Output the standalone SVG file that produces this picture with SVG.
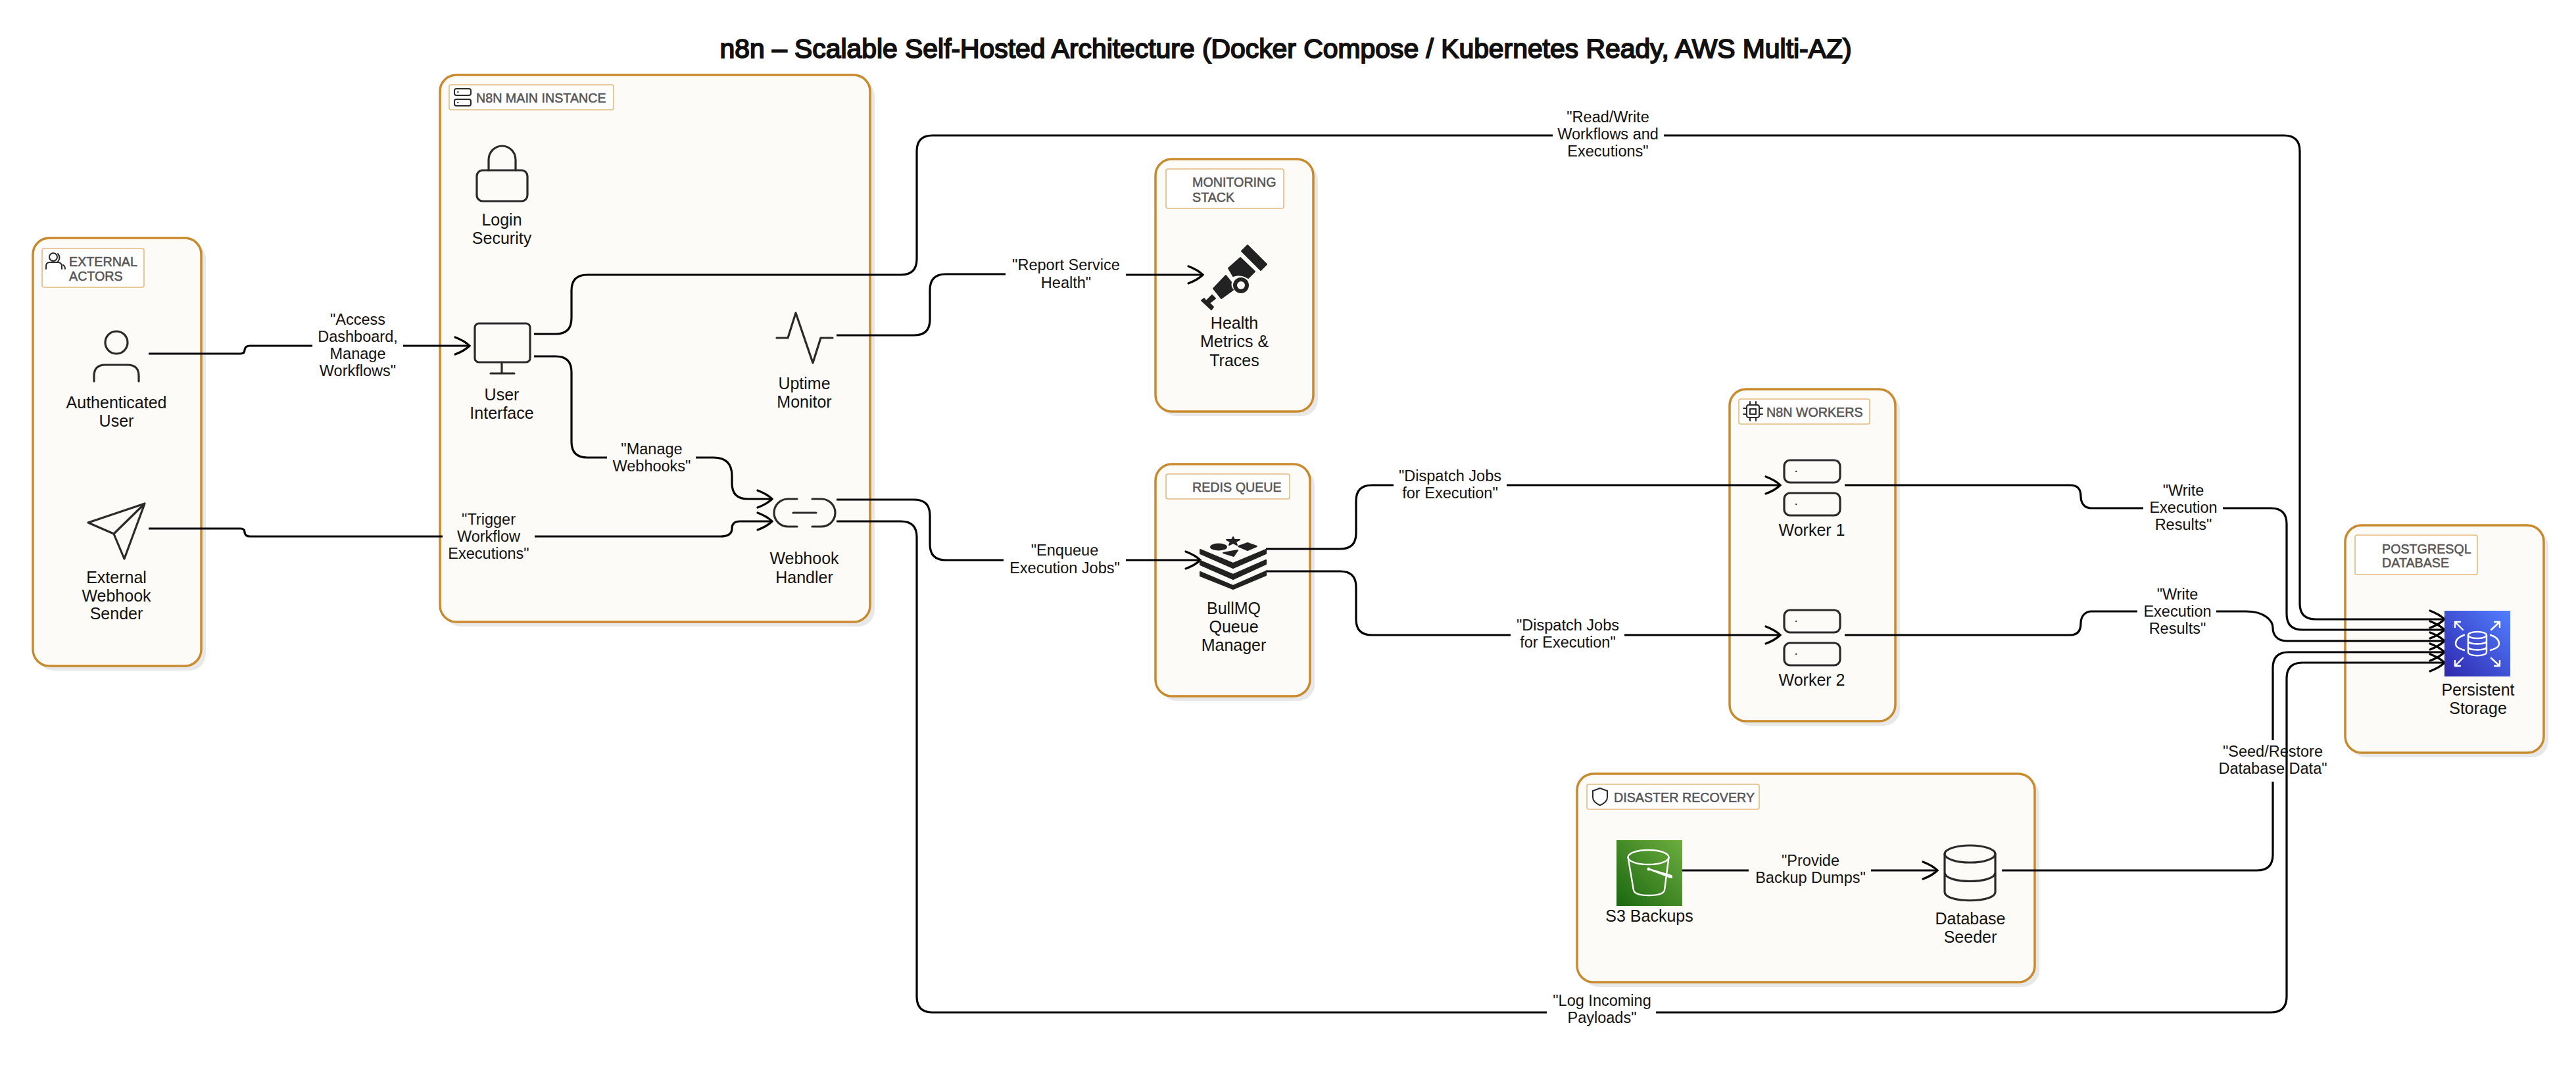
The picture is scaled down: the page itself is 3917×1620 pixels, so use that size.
<svg xmlns="http://www.w3.org/2000/svg" width="3917" height="1620" viewBox="0 0 3917 1620">
<style>
text{font-family:"Liberation Sans",Arial,sans-serif}
.title{font-size:41px;fill:#111;stroke:#111;stroke-width:1.9;text-anchor:middle}
.n{font-size:25px;fill:#111;text-anchor:middle}
.e{font-size:23.5px;fill:#111;text-anchor:middle}
.g{font-size:19.7px;fill:#555;stroke:#555;stroke-width:.5}
.box{fill:#fcfbf7;stroke:#c98a2e;stroke-width:3.5}
.sh{fill:#e8e8e8}
.lb{fill:#fff;stroke:#e3bb80;stroke-width:1.6}
.i{fill:none;stroke:#2a2a2a;stroke-width:3.2;stroke-linecap:round;stroke-linejoin:round}
.t{fill:none;stroke:#2a2a2a;stroke-width:2;stroke-linecap:round;stroke-linejoin:round}
.f{fill:#222;stroke:#222;stroke-width:2;stroke-linejoin:round}
.w{fill:none;stroke:#fff;stroke-width:2.4;stroke-linecap:round;stroke-linejoin:round}
.c{fill:none;stroke:#000;stroke-width:3.2}
.c .a{marker-end:url(#arrow)}
</style>
<defs>
<marker id="arrow" markerUnits="userSpaceOnUse" markerWidth="28" markerHeight="32" refX="23" refY="14" orient="auto" overflow="visible">
<path d="M1 1C9 4 17 8 23 14C17 20 9 24 1 27" fill="none" stroke="#000" stroke-width="3.2" stroke-linecap="round"/>
</marker>
<linearGradient id="blue" x1="0" y1="1" x2="1" y2="0"><stop offset="0" stop-color="#2e27ad"/><stop offset="1" stop-color="#527fff"/></linearGradient>
<linearGradient id="green" x1="0" y1="1" x2="1" y2="0"><stop offset="0" stop-color="#1b660f"/><stop offset="1" stop-color="#6cae3e"/></linearGradient>
</defs>
<rect width="3917" height="1620" fill="#fff"/>
<text class="title" x="1955" y="88" textLength="1721" lengthAdjust="spacingAndGlyphs">n8n – Scalable Self-Hosted Architecture (Docker Compose / Kubernetes Ready, AWS Multi-AZ)</text>

<g id="group-external-actors">
<rect class="sh" x="57" y="369" width="256" height="651" rx="25"/>
<rect class="box" x="50" y="362" width="256" height="651" rx="25"/>
<rect class="lb" x="64" y="378" width="155" height="59" rx="3"/>
<path class="t" d="M70 409V405Q70 399 76 399H87Q94 399 94 405V409M88 386Q93 392 88 398M96 403Q99 405 99 409"/>
<circle class="t" cx="81" cy="391" r="6"/>
<text class="g" x="105" y="405">EXTERNAL</text><text class="g" x="105" y="427">ACTORS</text>
</g>
<g id="group-main">
<rect class="sh" x="676" y="121" width="654" height="832" rx="25"/>
<rect class="box" x="669" y="114" width="654" height="832" rx="25"/>
<rect class="lb" x="683" y="129" width="250" height="38" rx="3"/>
<rect class="t" x="691" y="135" width="25" height="10" rx="3"/><rect class="t" x="691" y="151" width="25" height="10" rx="3"/>
<path class="t" d="M696 140h.5M696 156h.5"/>
<text class="g" x="724" y="156">N8N MAIN INSTANCE</text>
</g>
<g id="group-monitoring">
<rect class="sh" x="1764" y="249" width="240" height="384" rx="25"/>
<rect class="box" x="1757" y="242" width="240" height="384" rx="25"/>
<rect class="lb" x="1773" y="257" width="179" height="60" rx="3"/>
<text class="g" x="1813" y="284">MONITORING</text><text class="g" x="1813" y="307">STACK</text>
</g>
<g id="group-redis">
<rect class="sh" x="1764" y="713" width="235" height="353" rx="25"/>
<rect class="box" x="1757" y="706" width="235" height="353" rx="25"/>
<rect class="lb" x="1773" y="721" width="188" height="38" rx="3"/>
<text class="g" x="1813" y="748">REDIS QUEUE</text>
</g>
<g id="group-workers">
<rect class="sh" x="2637" y="599" width="252" height="505" rx="25"/>
<rect class="box" x="2630" y="592" width="252" height="505" rx="25"/>
<rect class="lb" x="2644" y="607" width="199" height="38" rx="3"/>
<rect class="t" x="2656" y="616" width="19" height="19" rx="3"/><rect class="t" x="2661" y="622" width="9" height="8"/>
<path class="t" d="M2661 611v5M2670 611v5M2661 635v5M2670 635v5M2651 621h5M2651 630h5M2675 621h5M2675 630h5"/>
<text class="g" x="2686" y="634">N8N WORKERS</text>
</g>
<g id="group-recovery">
<rect class="sh" x="2405" y="1184" width="696" height="317" rx="25"/>
<rect class="box" x="2398" y="1177" width="696" height="317" rx="25"/>
<rect class="lb" x="2413" y="1193" width="262" height="38" rx="3"/>
<path class="t" d="M2433 1199L2444 1203V1213Q2444 1220 2433 1225Q2422 1220 2422 1213V1203Z"/>
<text class="g" x="2454" y="1220">DISASTER RECOVERY</text>
</g>
<g id="group-postgres">
<rect class="sh" x="3573" y="806" width="302" height="346" rx="25"/>
<rect class="box" x="3566" y="799" width="302" height="346" rx="25"/>
<rect class="lb" x="3581" y="814" width="186" height="60" rx="3"/>
<text class="g" x="3622" y="842">POSTGRESQL</text><text class="g" x="3622" y="863">DATABASE</text>
</g>

<g id="connectors" class="c">
<path d="M226 538H366Q372 538 372 532Q373 526 380 526H475"/><path class="a" d="M613 526H714"/>
<path d="M812 508H845Q869 508 869 484V442Q869 418 893 418H1370Q1394 418 1394 394V230Q1394 206 1418 206H2361"/><path class="a" d="M2530 206H3473Q3497 206 3497 230V918Q3497 942 3521 942H3717"/>
<path d="M812 542H845Q869 542 869 566V672Q869 696 893 696H923"/><path class="a" d="M1058 696H1085Q1113 696 1113 724V735Q1113 759 1137 759H1174"/>
<path d="M226 804H366Q372 804 372 810Q373 816 380 816H673"/><path class="a" d="M813 816H1095Q1113 816 1113 804Q1113 793 1125 793H1174"/>
<path d="M1272 510H1390Q1414 510 1414 486V441Q1414 417 1438 417H1529"/><path class="a" d="M1712 418H1829"/>
<path d="M1272 760H1390Q1414 760 1414 784V828Q1414 852 1438 852H1526"/><path class="a" d="M1712 852H1825"/>
<path d="M1272 793H1370Q1394 793 1394 817V1516Q1394 1540 1418 1540H2352"/><path class="a" d="M2518 1540H3453Q3477 1540 3477 1516V1032Q3477 1008 3501 1008H3717"/>
<path d="M1925 835H2038Q2062 835 2062 811V762Q2062 738 2086 738H2119"/><path class="a" d="M2291 738H2707"/>
<path d="M1925 869H2038Q2062 869 2062 893V942Q2062 966 2086 966H2297"/><path class="a" d="M2470 966H2707"/>
<path d="M2805 738H3148C3160 738 3164 745 3164 755C3164 766 3170 773 3180 773H3259"/><path class="a" d="M3380 773H3453Q3477 773 3477 797V934Q3477 958 3501 958H3717"/>
<path d="M2805 966H3148C3160 966 3164 958 3164 948C3164 938 3170 930 3180 930H3250"/><path class="a" d="M3370 930H3415C3445 930 3456 945 3456 955C3456 965 3462 975 3477 975H3717"/>
<path d="M2558 1324H2659"/><path class="a" d="M2845 1324H2946"/>
<path d="M3044 1324H3432Q3456 1324 3456 1300V1189"/><path class="a" d="M3456 1126V1016Q3456 992 3480 992H3717"/>
</g>
<g id="edge-labels">
<text class="e" x="544" y="494">"Access</text><text class="e" x="544" y="520">Dashboard,</text><text class="e" x="544" y="546">Manage</text><text class="e" x="544" y="572">Workflows"</text>
<text class="e" x="2445" y="186">"Read/Write</text><text class="e" x="2445" y="212">Workflows and</text><text class="e" x="2445" y="238">Executions"</text>
<text class="e" x="991" y="691">"Manage</text><text class="e" x="991" y="717">Webhooks"</text>
<text class="e" x="743" y="798">"Trigger</text><text class="e" x="743" y="824">Workflow</text><text class="e" x="743" y="850">Executions"</text>
<text class="e" x="1621" y="411">"Report Service</text><text class="e" x="1621" y="438">Health"</text>
<text class="e" x="1619" y="845">"Enqueue</text><text class="e" x="1619" y="872">Execution Jobs"</text>
<text class="e" x="2205" y="732">"Dispatch Jobs</text><text class="e" x="2205" y="758">for Execution"</text>
<text class="e" x="2384" y="959">"Dispatch Jobs</text><text class="e" x="2384" y="985">for Execution"</text>
<text class="e" x="3320" y="754">"Write</text><text class="e" x="3320" y="780">Execution</text><text class="e" x="3320" y="806">Results"</text>
<text class="e" x="3311" y="912">"Write</text><text class="e" x="3311" y="938">Execution</text><text class="e" x="3311" y="964">Results"</text>
<text class="e" x="2753" y="1317">"Provide</text><text class="e" x="2753" y="1343">Backup Dumps"</text>
<text class="e" x="3456" y="1151">"Seed/Restore</text><text class="e" x="3456" y="1177">Database Data"</text>
<text class="e" x="2436" y="1530">"Log Incoming</text><text class="e" x="2436" y="1556">Payloads"</text>
</g>

<g id="node-user">
<ellipse class="i" cx="177" cy="521" rx="17" ry="17"/>
<path class="i" d="M143 580V572Q143 555 160 555H194Q211 555 211 572V580"/>
<text class="n" x="177" y="621">Authenticated</text><text class="n" x="177" y="649">User</text>
</g>
<g id="node-webhook-sender">
<path class="i" d="M134 795L220 766L189 850L173 812ZM173 812L220 766"/>
<text class="n" x="177" y="887">External</text><text class="n" x="177" y="915">Webhook</text><text class="n" x="177" y="942">Sender</text>
</g>
<g id="node-login">
<rect class="i" x="725" y="259" width="77" height="47" rx="9"/>
<path class="i" d="M743 259V243A20.500 21 0 0 1 784 243V259"/>
<text class="n" x="763" y="343">Login</text><text class="n" x="763" y="371">Security</text>
</g>
<g id="node-ui">
<rect class="i" x="722" y="492" width="84" height="59" rx="6"/>
<path class="i" d="M763 551V568M746 568H782"/>
<text class="n" x="763" y="609">User</text><text class="n" x="763" y="637">Interface</text>
</g>
<g id="node-uptime">
<path class="i" d="M1181 514H1198L1210 476L1236 552L1248 514H1266"/>
<text class="n" x="1223" y="592">Uptime</text><text class="n" x="1223" y="620">Monitor</text>
</g>
<g id="node-webhook">
<path class="i" d="M1212 759H1198A21 21 0 0 0 1198 801H1212M1235 759H1249A21 21 0 0 1 1249 801H1235M1206 780H1241"/>
<text class="n" x="1223" y="858">Webhook</text><text class="n" x="1223" y="887">Handler</text>
</g>
<g id="node-health">
<path class="f" d="M1897 373L1926 402L1917 411L1888 382Z"/>
<path class="f" d="M1868 408L1886 392L1908 413L1898 423Q1887 416 1875 420Z"/>
<path class="f" d="M1845 439L1864 419L1872 429Q1870 436 1875 441L1857 454Z"/>
<circle cx="1887" cy="434" r="9" fill="none" stroke="#222" stroke-width="6"/>
<path class="f" d="M1827 457L1842 471L1845 467L1839 461L1848 454L1843 449L1834 458L1831 454Z"/>
<text class="n" x="1877" y="500">Health</text><text class="n" x="1877" y="528">Metrics &amp;</text><text class="n" x="1877" y="557">Traces</text>
</g>
<g id="node-bullmq">
<path class="f" d="M1825 836L1875 857L1925 836V842L1875 864L1825 842Z"/>
<path class="f" d="M1825 853L1875 874L1925 852V858L1875 881L1825 859Z"/>
<path class="f" d="M1825 870L1875 891L1925 869V875L1875 896L1825 876Z"/>
<ellipse class="f" cx="1853" cy="832" rx="12" ry="4.500"/>
<path class="f" d="M1875 817L1877 821L1885 821L1879 824L1881 829L1875 826L1869 829L1871 824L1865 821L1873 821Z"/>
<path class="f" d="M1883 831L1897 826L1911 831L1897 837Z"/>
<path class="f" d="M1860 841L1882 837L1876 846Z"/>
<text class="n" x="1876" y="934">BullMQ</text><text class="n" x="1876" y="962">Queue</text><text class="n" x="1876" y="990">Manager</text>
</g>
<g id="node-worker-1">
<rect class="i" x="2713" y="700" width="85" height="34" rx="9"/><rect class="i" x="2713" y="750" width="85" height="34" rx="9"/>
<path class="t" d="M2731 717h.5M2731 767h.5"/>
<text class="n" x="2755" y="815">Worker 1</text>
</g>
<g id="node-worker-2">
<rect class="i" x="2713" y="928" width="85" height="34" rx="9"/><rect class="i" x="2713" y="978" width="85" height="34" rx="9"/>
<path class="t" d="M2731 945h.5M2731 995h.5"/>
<text class="n" x="2755" y="1043">Worker 2</text>
</g>
<g id="node-s3">
<rect x="2458" y="1278" width="100" height="100" fill="url(#green)"/>
<ellipse class="w" cx="2506.500" cy="1304" rx="31" ry="11"/>
<path class="w" d="M2475.500 1304L2484 1354Q2486 1362 2507 1362Q2529 1362 2531 1354L2537.500 1304M2507 1322L2541 1332Q2544 1336 2538 1334Z"/>
<circle cx="2507" cy="1322" r="2.500" fill="#fff"/>
<text class="n" x="2508" y="1402">S3 Backups</text>
</g>
<g id="node-seeder">
<ellipse class="i" cx="2995.500" cy="1299" rx="38.500" ry="13"/>
<path class="i" d="M2957 1299V1357C2957 1374 3034 1374 3034 1357V1299M2957 1327C2957 1345 3034 1345 3034 1327"/>
<text class="n" x="2996" y="1406">Database</text><text class="n" x="2996" y="1434">Seeder</text>
</g>
<g id="node-postgres">
<rect x="3717" y="929" width="100" height="100" fill="url(#blue)"/>
<path class="w" d="M3745 958L3733 946M3733 954V946H3741M3788 958L3801 946M3793 946H3801V954M3745 1001L3733 1013M3733 1005V1013H3741M3788 1001L3801 1013M3801 1005V1013H3793"/>
<path class="w" d="M3747 966C3738 969 3734 974 3734 979C3734 984 3738 986 3747 989M3787 966C3796 969 3800 974 3800 979C3800 984 3796 986 3787 989"/>
<ellipse class="w" cx="3767" cy="966" rx="14" ry="5"/>
<path class="w" d="M3753 966V992C3753 999 3781 999 3781 992V966M3753 975C3753 981 3781 981 3781 975M3753 984C3753 990 3781 990 3781 984"/>
<text class="n" x="3768" y="1058">Persistent</text><text class="n" x="3768" y="1086">Storage</text>
</g>
</svg>
